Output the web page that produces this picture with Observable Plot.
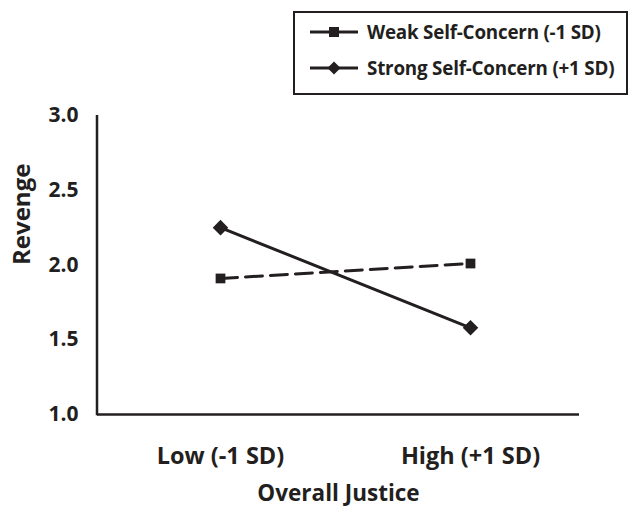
<!DOCTYPE html>
<html>
<head>
<meta charset="utf-8">
<script src="https://cdn.jsdelivr.net/npm/d3@7"></script>
<script src="https://cdn.jsdelivr.net/npm/@observablehq/plot@0.6"></script>
<style>
  html, body { margin: 0; padding: 0; background: #fff; }
  #wrap { position: relative; width: 629px; height: 508px; font-family: "Open Sans", sans-serif; }
  #legend { position: absolute; left: 293px; top: 11px; width: 331px; height: 80px; border: 2px solid #231f20; box-sizing: content-box; background: #fff; }
  .item { position: absolute; left: 0; height: 20px; display: flex; align-items: center; font-weight: 700; font-size: 18.8px; color: #231f20; white-space: nowrap; letter-spacing: -0.2px; }
  .item svg { margin-left: 15px; margin-right: 9px; flex: none; }
</style>
</head>
<body>
<div id="wrap"></div>
<script>
const categories = ["Low (-1 SD)", "High (+1 SD)"];
const seriesNames = ["Weak Self-Concern (-1 SD)", "Strong Self-Concern (+1 SD)"];
const weakValues = [1.91, 2.01];
const strongValues = [2.25, 1.58];
const yTicks = [1.0, 1.5, 2.0, 2.5, 3.0];
const xTitle = "Overall Justice";
const yTitle = "Revenge";

const ink = "#231f20";
const data = [
  ...categories.map((c, i) => ({cat: c, series: seriesNames[0], value: weakValues[i]})),
  ...categories.map((c, i) => ({cat: c, series: seriesNames[1], value: strongValues[i]}))
];
const weak = data.filter(d => d.series === seriesNames[0]);
const strong = data.filter(d => d.series === seriesNames[1]);

const yAxisLine = (index, scales, values, dim) => {
  const g = d3.create("svg:g");
  g.append("line")
    .attr("x1", dim.marginLeft).attr("x2", dim.marginLeft)
    .attr("y1", scales.y(yTicks[yTicks.length - 1])).attr("y2", scales.y(yTicks[0]) + 1.25)
    .attr("stroke", ink).attr("stroke-width", 2.5);
  return g.node();
};

const chart = Plot.plot({
  width: 629,
  height: 508,
  marginLeft: 97,
  marginRight: 50,
  marginTop: 115,
  marginBottom: 94,
  style: {fontFamily: "'Open Sans', sans-serif", color: ink, background: "#fff", overflow: "visible"},
  x: {type: "point", domain: categories, range: [220, 470], padding: 0, label: null},
  y: {domain: [1, 3], label: null},
  marks: [
    Plot.axisX({tickSize: 0, tickPadding: 33, fontSize: 23.5, fontWeight: 700, fill: ink, label: null}),
    Plot.axisY({ticks: yTicks, tickFormat: d3.format(".1f"), tickSize: 0, tickPadding: 19, fontSize: 21, fontWeight: 700, fill: ink, label: null}),
    Plot.ruleY([1], {stroke: ink, strokeWidth: 2.5}),
    yAxisLine,
    Plot.line(weak, {x: "cat", y: "value", stroke: ink, strokeWidth: 3, strokeDasharray: "17,8"}),
    Plot.line(strong, {x: "cat", y: "value", stroke: ink, strokeWidth: 3}),
    Plot.dot(weak, {x: "cat", y: "value", symbol: "square", r: 5.5, fill: ink, stroke: "none"}),
    Plot.dot(strong, {x: "cat", y: "value", symbol: "diamond2", r: 7, fill: ink, stroke: "none"}),
    Plot.text([xTitle], {frameAnchor: "bottom", dy: 79, fontSize: 22.5, fontWeight: 700, fill: ink, text: d => d, lineAnchor: "middle"}),
    Plot.text([yTitle], {frameAnchor: "left", dx: -75, rotate: -90, fontSize: 24, fontWeight: 700, fill: ink, text: d => d})
  ]
});

const wrap = document.getElementById("wrap");
wrap.appendChild(chart);

const legend = document.createElement("div");
legend.id = "legend";
const symbols = ["square", "diamond"];
seriesNames.forEach((name, i) => {
  const it = document.createElement("div");
  it.className = "item";
  it.style.top = (i === 0 ? 9 : 45) + "px";
  const marker = symbols[i] === "square"
    ? `<rect x="19" y="5" width="10" height="10" fill="${ink}"/>`
    : `<path d="M24 3.5 L30.5 10 L24 16.5 L17.5 10 Z" fill="${ink}"/>`;
  it.innerHTML = `<svg width="48" height="20"><line x1="0" x2="48" y1="10" y2="10" stroke="${ink}" stroke-width="3"/>${marker}</svg><span>${name}</span>`;
  legend.appendChild(it);
});
wrap.appendChild(legend);
</script>
</body>
</html>
